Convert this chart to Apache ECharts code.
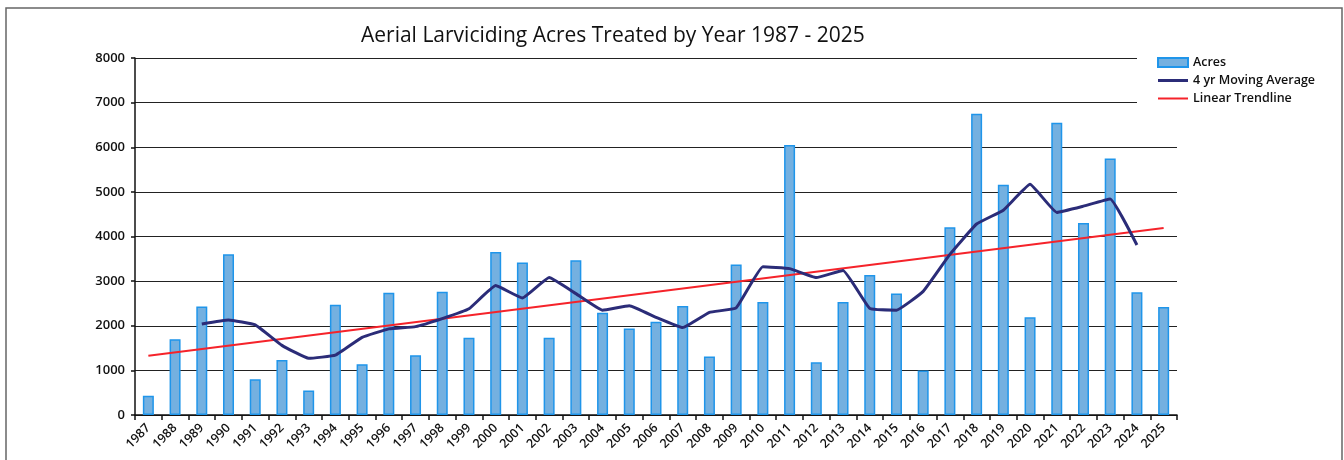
<!DOCTYPE html>
<html>
<head>
<meta charset="utf-8">
<script src="https://cdn.jsdelivr.net/npm/echarts@6/dist/echarts.min.js"></script>
<style>
  html, body { margin: 0; padding: 0; background: #fff; }
  #acres-chart { width: 1344px; height: 460px; }
</style>
</head>
<body>
<div id="acres-chart"></div>
<script>
var years = ['1987','1988','1989','1990','1991','1992','1993','1994','1995','1996',
  '1997','1998','1999','2000','2001','2002','2003','2004','2005','2006',
  '2007','2008','2009','2010','2011','2012','2013','2014','2015','2016',
  '2017','2018','2019','2020','2021','2022','2023','2024','2025'];

var acres = [430, 1700, 2430, 3600, 800, 1230, 550, 2470, 1140, 2740,
  1340, 2760, 1730, 3650, 3420, 1730, 3470, 2290, 1940, 2090,
  2440, 1310, 3370, 2530, 6050, 1180, 2530, 3140, 2720, 1000,
  4210, 6750, 5160, 2190, 6550, 4300, 5750, 2750, 2420];

// 4 yr moving average (no value for 1987, 1988, 2025)
var movingAvg = [null, null, 2040, 2130, 2020, 1560, 1270, 1340, 1740, 1930,
  1980, 2160, 2380, 2900, 2620, 3080, 2720, 2350, 2450, 2190,
  1960, 2300, 2400, 3320, 3280, 3080, 3240, 2390, 2350, 2770,
  3600, 4280, 4590, 5170, 4540, 4680, 4840, 3810, null];

// linear trendline end points
var trendYears = ['1987', '2025'];
var trendValues = [1330, 4190];

var yTicks = [0, 1000, 2000, 3000, 4000, 5000, 6000, 7000, 8000];

window.onload = function() {
  acresChart();
};

function acresChart(){
  var chart = echarts.init(document.getElementById('acres-chart'));
  var font = '"Open Sans", "Liberation Sans", sans-serif';
  var option = {
    animation: false,
    backgroundColor: '#fff',
    graphic: [
      {
        type: 'rect',
        shape: { x: 6, y: 8, width: 1336, height: 470 },
        style: { fill: 'none', stroke: '#666', lineWidth: 1.5 },
        silent: true
      }
    ],
    title: {
      text: 'Aerial Larviciding Acres Treated by Year 1987 - 2025',
      left: 356,
      top: 21,
      textStyle: { fontFamily: font, fontSize: 21, fontWeight: 'normal', color: '#111' }
    },
    legend: {
      orient: 'vertical',
      left: 1137,
      top: 52,
      padding: [4, 8, 6, 20],
      backgroundColor: '#fff',
      itemWidth: 30,
      itemHeight: 9,
      itemGap: 5,
      textStyle: { fontFamily: font, fontSize: 12.5, fontWeight: 600, color: '#111' },
      data: [
        { name: 'Acres', icon: 'rect' },
        { name: '4 yr Moving Average', icon: 'path://M0,0 H30 V3 H0 Z' },
        { name: 'Linear Trendline', icon: 'path://M0,0 H30 V2 H0 Z' }
      ]
    },
    grid: {
      left: 135,
      right: 167,
      top: 58,
      bottom: 45
    },
    xAxis: {
      type: 'category',
      data: years,
      boundaryGap: true,
      axisLine: { lineStyle: { color: '#111', width: 1.5 } },
      axisTick: { show: true, length: 5, lineStyle: { color: '#111', width: 1.5 } },
      axisLabel: {
        rotate: 45,
        interval: 0,
        margin: 11,
        fontFamily: font,
        fontSize: 12.5,
        fontWeight: 600,
        color: '#111'
      },
      splitLine: { show: false }
    },
    yAxis: {
      type: 'value',
      min: yTicks[0],
      max: yTicks[yTicks.length - 1],
      interval: 1000,
      axisLine: { show: true, lineStyle: { color: '#111', width: 1.5 } },
      axisTick: { show: true, length: 4, lineStyle: { color: '#111', width: 1.5 } },
      axisLabel: {
        margin: 10,
        fontFamily: font,
        fontSize: 13,
        fontWeight: 600,
        color: '#111',
        formatter: function (v) { return String(v); }
      },
      splitLine: { show: true, lineStyle: { color: '#222', width: 1.2 } }
    },
    series: [
      {
        name: 'Acres',
        type: 'bar',
        barWidth: 11,
        data: acres,
        itemStyle: { color: '#74b0e0', borderColor: '#1f95ea', borderWidth: 1.5 },
        z: 2
      },
      {
        name: '4 yr Moving Average',
        type: 'line',
        data: movingAvg,
        symbol: 'none',
        smooth: 0.1,
        lineStyle: { color: '#2b2c78', width: 3 },
        itemStyle: { color: '#2b2c78' },
        z: 4
      },
      {
        name: 'Linear Trendline',
        type: 'line',
        data: [[trendYears[0], trendValues[0]], [trendYears[1], trendValues[1]]],
        symbol: 'none',
        lineStyle: { color: '#f5232a', width: 2 },
        itemStyle: { color: '#f5232a' },
        z: 3
      }
    ]
  };
  chart.setOption(option);
}
</script>
</body>
</html>
